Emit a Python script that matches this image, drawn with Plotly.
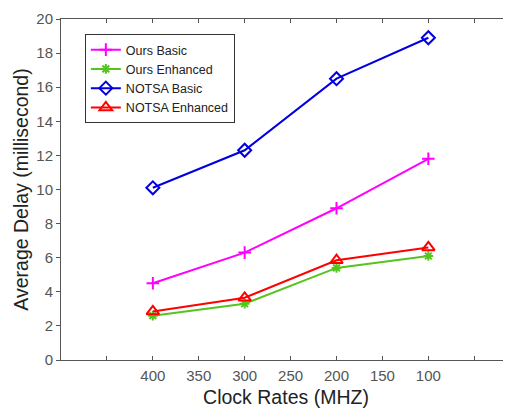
import plotly.graph_objects as go

clock_rates = [400, 300, 200, 100]
ours_basic = [4.5, 6.3, 8.9, 11.8]
ours_enhanced = [2.6, 3.3, 5.4, 6.1]
notsa_basic = [10.1, 12.3, 16.5, 18.9]
notsa_enhanced = [2.85, 3.65, 5.85, 6.6]

x_tickvals = [500, 450, 400, 350, 300, 250, 200, 150, 100, 50]
x_ticktext = ["", "", "400", "350", "300", "250", "200", "150", "100", ""]
y_tickvals = [0, 2, 4, 6, 8, 10, 12, 14, 16, 18, 20]

series = [
    ("Ours Basic", ours_basic, "#ff00ff", "cross-thin-open", 9),
    ("Ours Enhanced", ours_enhanced, "#55c41e", "asterisk-open", 8),
    ("NOTSA Basic", notsa_basic, "#0000e0", "diamond-open", 10),
    ("NOTSA Enhanced", notsa_enhanced, "#ff0000", "triangle-up-open", 11),
]

fig = go.Figure()
for name, vals, color, sym, size in series:
    fig.add_trace(go.Scatter(
        x=clock_rates, y=vals, name=name, mode="lines+markers",
        line=dict(color=color, width=2),
        marker=dict(symbol=sym, size=size, color=color,
                    line=dict(color=color, width=2)),
    ))

fig.update_layout(
    width=503, height=401,
    margin=dict(l=53, r=0, t=11, b=49),
    paper_bgcolor="white", plot_bgcolor="white",
    font=dict(family="Arial, Liberation Sans, sans-serif", color="#333"),
    showlegend=True,
    legend=dict(x=0.053, y=0.956, xanchor="left", yanchor="top",
                bordercolor="#333", borderwidth=1, bgcolor="white",
                font=dict(size=12.5, color="#222"), tracegroupgap=0),
    xaxis=dict(range=[500, 10], tickvals=x_tickvals, ticktext=x_ticktext,
               ticks="inside", ticklen=4, tickcolor="#555",
               showline=True, linecolor="#555", linewidth=1, mirror="ticks",
               showgrid=False, zeroline=False, automargin=False,
               ticklabelstandoff=2,
               tickfont=dict(size=15, color="#555"),
               title=dict(text="Clock Rates (MHZ)", font=dict(size=19.5, color="#222"), standoff=7)),
    yaxis=dict(range=[0, 20], tickvals=y_tickvals,
               ticks="outside", ticklen=4, tickcolor="#555",
               showline=True, linecolor="#555", linewidth=1,
               showgrid=False, zeroline=False, automargin=False,
               tickfont=dict(size=15, color="#555"),
               title=dict(text="Average Delay (millisecond)", font=dict(size=19.5, color="#222"), standoff=2)),
)

fig.write_html("out.html")
